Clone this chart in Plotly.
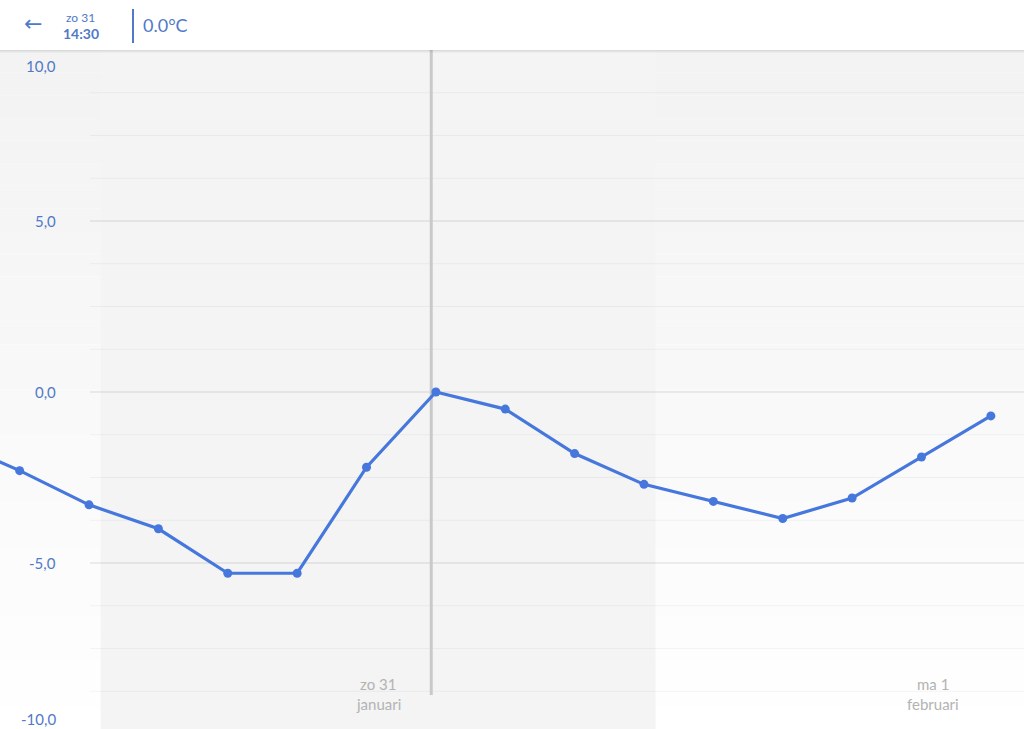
import pandas as pd
import plotly.graph_objects as go

# temperature readings (3-hourly), first one lies just left of the view
times = ["2021-01-30 17:30", "2021-01-30 20:30", "2021-01-30 23:30", "2021-01-31 02:30",
         "2021-01-31 05:30", "2021-01-31 08:30", "2021-01-31 11:30", "2021-01-31 14:30",
         "2021-01-31 17:30", "2021-01-31 20:30", "2021-01-31 23:30", "2021-02-01 02:30",
         "2021-02-01 05:30", "2021-02-01 08:30", "2021-02-01 11:30", "2021-02-01 14:30"]
temps = [-1.4, -2.3, -3.3, -4.0, -5.3, -5.3, -2.2, 0.0, -0.5, -1.8, -2.7, -3.2, -3.7, -3.1, -1.9, -0.7]

major_levels = [-5, 0, 5]
minor_levels = [-8.75, -7.5, -6.25, -3.75, -2.5, -1.25, 1.25, 2.5, 3.75, 6.25, 7.5, 8.75]
tick_values = [10, 5, 0, -5, -10]
tick_labels = ["10,0", "5,0", "0,0", "-5,0", "-10,0"]

day_labels = [("2021-01-31 12:00", "zo 31", "januari"), ("2021-02-01 12:00", "ma 1", "februari")]
day_band = ("2021-01-31 00:00", "2021-02-01 00:00")
selected_time = "2021-01-31 14:18"

W, H = 1024, 729
HEAD = 50
top_frac = 1 - HEAD / H
y_range = [-9.854, 10]
x_range = ["2021-01-30 19:39", "2021-02-01 15:56"]

BLUE = "#4677dc"
TXT_BLUE = "#5079c8"

df = pd.DataFrame({"time": pd.to_datetime(times), "temp": temps})

fig = go.Figure()
fig.add_trace(go.Scatter(x=df["time"], y=df["temp"], mode="lines+markers",
                         line=dict(color=BLUE, width=3.2), marker=dict(color=BLUE, size=9),
                         hoverinfo="skip", showlegend=False))

shapes = []
# soft vertical gradient behind everything
steps = 30
for i in range(steps):
    t = i / (steps - 1)
    c = int(243 + (255 - 243) * t)
    y0 = top_frac * (1 - (i + 1) / steps)
    y1 = top_frac * (1 - i / steps)
    shapes.append(dict(type="rect", xref="paper", yref="paper", x0=0, x1=1, y0=y0, y1=y1,
                       fillcolor=f"rgb({c},{c},{c})", line_width=0, layer="below"))
# day band
shapes.append(dict(type="rect", xref="x", yref="paper", x0=day_band[0], x1=day_band[1],
                   y0=0, y1=top_frac, fillcolor="#f4f4f4", line_width=0, layer="below"))
# grid lines
for lv in minor_levels:
    shapes.append(dict(type="line", xref="paper", yref="y", x0=90 / W, x1=1, y0=lv, y1=lv,
                       line=dict(color="rgba(0,0,0,0.045)", width=1), layer="below"))
for lv in major_levels:
    shapes.append(dict(type="line", xref="paper", yref="y", x0=90 / W, x1=1, y0=lv, y1=lv,
                       line=dict(color="rgba(0,0,0,0.13)", width=1), layer="below"))
# selected time marker
shapes.append(dict(type="line", xref="x", yref="paper", x0=selected_time, x1=selected_time,
                   y0=1 - 695 / H, y1=top_frac, line=dict(color="#c9c9c9", width=3), layer="below"))
# header bar with shadow
for k, a in enumerate([0.10, 0.06, 0.03]):
    shapes.append(dict(type="rect", xref="paper", yref="paper", x0=0, x1=1,
                       y0=1 - (HEAD + k + 1) / H, y1=1 - (HEAD + k) / H,
                       fillcolor=f"rgba(0,0,0,{a})", line_width=0, layer="above"))
shapes.append(dict(type="rect", xref="paper", yref="paper", x0=0, x1=1, y0=top_frac, y1=1,
                   fillcolor="white", line_width=0, layer="above"))
shapes.append(dict(type="line", xref="paper", yref="paper", x0=133 / W, x1=133 / W,
                   y0=1 - 43 / H, y1=1 - 9 / H, line=dict(color=TXT_BLUE, width=2), layer="above"))

ann = []
ypos = {10: 66, 5: 221, 0: 392, -5: 563, -10: 719}
for v, lab in zip(tick_values, tick_labels):
    ann.append(dict(text=lab, xref="paper", yref="paper", x=58 / W, y=1 - ypos[v] / H,
                    xanchor="right", yanchor="middle", showarrow=False,
                    font=dict(size=15, color=TXT_BLUE)))
for t, d1, d2 in day_labels:
    ann.append(dict(text=d1, xref="x", yref="paper", x=t, y=1 - 684 / H, showarrow=False,
                    xanchor="center", yanchor="middle", font=dict(size=15, color="#b3b3b3")))
    ann.append(dict(text=d2, xref="x", yref="paper", x=t, y=1 - 704 / H, showarrow=False,
                    xanchor="center", yanchor="middle", font=dict(size=15, color="#b3b3b3")))
# header texts
ann.append(dict(text="←", xref="paper", yref="paper", x=33 / W, y=1 - 24 / H, showarrow=False,
                xanchor="center", yanchor="middle",
                font=dict(size=22, color=TXT_BLUE, family="DejaVu Sans")))
ann.append(dict(text="zo 31", xref="paper", yref="paper", x=80 / W, y=1 - 17 / H, showarrow=False,
                xanchor="center", yanchor="middle", font=dict(size=12, color=TXT_BLUE)))
ann.append(dict(text="<b>14:30</b>", xref="paper", yref="paper", x=81 / W, y=1 - 33 / H,
                showarrow=False, xanchor="center", yanchor="middle",
                font=dict(size=14, color=TXT_BLUE)))
ann.append(dict(text="0.0°C", xref="paper", yref="paper", x=141 / W, y=1 - 25 / H, showarrow=False,
                xanchor="left", yanchor="middle", font=dict(size=18, color=TXT_BLUE)))

fig.update_layout(
    width=W, height=H,
    margin=dict(l=0, r=0, t=0, b=0),
    paper_bgcolor="white", plot_bgcolor="rgba(0,0,0,0)",
    font=dict(family="Lato, Open Sans, sans-serif"),
    xaxis=dict(range=x_range, showgrid=False, zeroline=False, showticklabels=False, fixedrange=True),
    yaxis=dict(range=y_range, domain=[0, top_frac], showgrid=False, zeroline=False,
               showticklabels=False, fixedrange=True),
    shapes=shapes, annotations=ann,
)

# drop the default page margin so the figure sits at the window corner
fig.write_html("out.html", config={"displayModeBar": False},
               post_script="document.body.style.margin='0';document.body.style.overflow='hidden';")
